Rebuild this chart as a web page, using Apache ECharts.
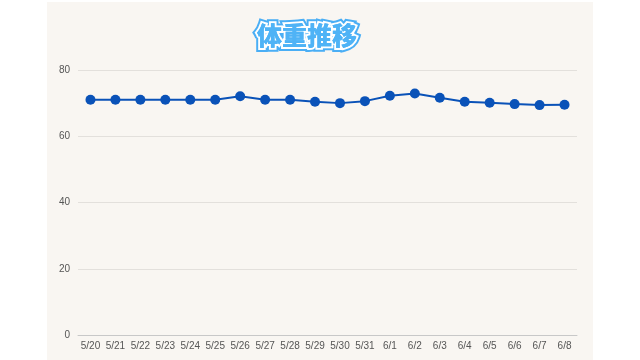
<!DOCTYPE html>
<html>
<head>
<meta charset="utf-8">
<script src="https://cdn.jsdelivr.net/npm/echarts@6/dist/echarts.min.js"></script>
<style>
html,body{margin:0;padding:0;background:#fff;width:640px;height:360px;overflow:hidden;}
#c{position:absolute;left:47px;top:2px;width:546px;height:358px;}
</style>
</head>
<body>
<div id="c"></div>
<script>
const categories = ['5/20','5/21','5/22','5/23','5/24','5/25','5/26','5/27','5/28','5/29','5/30','5/31','6/1','6/2','6/3','6/4','6/5','6/6','6/7','6/8'];
const weights = [71,71,71,71,71,71,72.1,71,71,70.4,70,70.6,72.2,72.9,71.6,70.4,70.1,69.7,69.4,69.5];
const yTicks = {min:0, max:80, interval:20};
const titleText = '体重推移';

const titleFont = '900 25px "Noto Sans CJK JP"';
const chart = echarts.init(document.getElementById('c'));
chart.setOption({
  backgroundColor:'#f9f6f2',
  animation:false,
  graphic:[
    {type:'text', z:10, style:{text:titleText, x:260, y:33, textAlign:'center', textVerticalAlign:'middle', font:titleFont, fill:'#4fb3f6', stroke:'#4aaef5', lineWidth:8, lineJoin:'round'}},
    {type:'text', z:11, style:{text:titleText, x:260, y:33, textAlign:'center', textVerticalAlign:'middle', font:titleFont, fill:'#4fb3f6', stroke:'#ffffff', lineWidth:4, lineJoin:'round'}},
    {type:'text', z:12, style:{text:titleText, x:260, y:33, textAlign:'center', textVerticalAlign:'middle', font:titleFont, fill:'#4fb3f6'}}
  ],
  grid:{left:31,right:16,top:68,bottom:25,containLabel:false},
  xAxis:{
    type:'category',
    data:categories,
    boundaryGap:true,
    axisLine:{lineStyle:{color:'#c8c8c8'}},
    axisTick:{show:false},
    axisLabel:{color:'#555',fontSize:10,fontFamily:'Liberation Sans',margin:6,interval:0}
  },
  yAxis:{
    type:'value',
    min:yTicks.min,max:yTicks.max,interval:yTicks.interval,
    axisLine:{show:false},
    axisTick:{show:false},
    axisLabel:{color:'#555',fontSize:10,fontFamily:'Liberation Sans',margin:8},
    splitLine:{lineStyle:{color:'#e3e0dc'}}
  },
  series:[{
    type:'line',
    data:weights,
    symbol:'circle',
    symbolSize:10,
    lineStyle:{color:'#0a52b8',width:2},
    itemStyle:{color:'#0a52b8'}
  }]
});
</script>
</body>
</html>
